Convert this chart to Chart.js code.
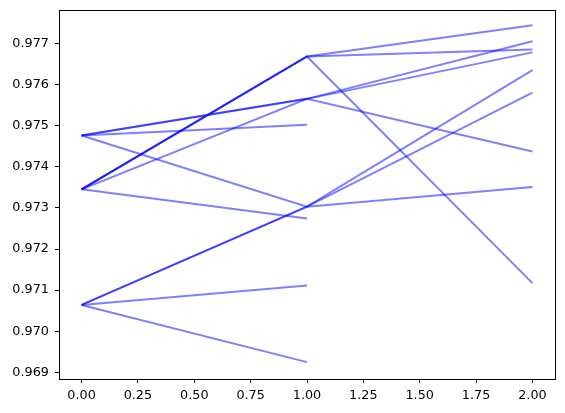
<!DOCTYPE html>
<html>
<head>
<meta charset="utf-8">
<script src="https://cdn.jsdelivr.net/npm/chart.js@4/dist/chart.umd.min.js"></script>
<style>
  html, body { margin: 0; padding: 0; background: #fff; }
  #wrap { width: 565px; height: 413px; }
</style>
</head>
<body>
<div id="wrap"><canvas id="chart" width="565" height="413"></canvas></div>
<script>
// step positions along the x axis
const xValues = [0, 1, 2];

// each path is a list of y values, one per step (some stop at step 1)
const pathsFromA = [
  [0.97476, 0.97565, 0.97705],
  [0.97476, 0.97565, 0.97678],
  [0.97476, 0.97303, 0.97351],
  [0.97476, 0.97502]
];
const pathsFromB = [
  [0.97345, 0.97668, 0.97744],
  [0.97345, 0.97668, 0.97685],
  [0.97345, 0.97668, 0.97117],
  [0.97345, 0.97565, 0.97437],
  [0.97345, 0.97274]
];
const pathsFromC = [
  [0.97064, 0.97303, 0.97635],
  [0.97064, 0.97303, 0.97580],
  [0.97064, 0.97111],
  [0.97064, 0.96925]
];

const xTicks = [0, 0.25, 0.5, 0.75, 1, 1.25, 1.5, 1.75, 2];
const yTicks = [0.969, 0.970, 0.971, 0.972, 0.973, 0.974, 0.975, 0.976, 0.977];

const lineColor = 'rgba(0, 0, 255, 0.5)';
const font = { family: '"DejaVu Sans", sans-serif', size: 12.8 };

const datasets = [...pathsFromA, ...pathsFromB, ...pathsFromC].map(path => ({
  data: path.map((y, i) => ({ x: xValues[i], y })),
  borderColor: lineColor,
  borderWidth: 2,
  pointRadius: 0,
  tension: 0,
  fill: false
}));

// matplotlib-like frame on all four sides
const framePlugin = {
  id: 'frame',
  afterDraw(chart){
    const { ctx, chartArea: a } = chart;
    ctx.save();
    ctx.strokeStyle = '#000';
    ctx.lineWidth = 1;
    ctx.strokeRect(Math.round(a.left) + 0.5, Math.round(a.top) + 0.5,
      Math.round(a.right - a.left), Math.round(a.bottom - a.top));
    ctx.restore();
  }
};

// no extra room for half labels at the axis ends
function noEdgePadding(s){
  s.paddingTop = 0; s.paddingBottom = 0; s.paddingLeft = 0; s.paddingRight = 0;
}

new Chart(document.getElementById('chart'), {
  type: 'line',
  data: { datasets },
  plugins: [framePlugin],
  options: {
    responsive: false,
    animation: false,
    layout: { padding: { top: 10, right: 10, left: 0, bottom: 0 } },
    plugins: { legend: { display: false }, tooltip: { enabled: false } },
    scales: {
      x: {
        type: 'linear',
        min: -0.1,
        max: 2.1,
        afterBuildTicks: s => { s.ticks = xTicks.map(v => ({ value: v })); },
        afterFit: s => { s.height = 34; noEdgePadding(s); },
        grid: { drawOnChartArea: false, drawTicks: true, tickLength: 4, color: '#000' },
        border: { display: true, color: '#000' },
        ticks: {
          color: '#000', font, padding: 5, maxRotation: 0, autoSkip: false,
          callback: v => Number(v).toFixed(2)
        }
      },
      y: {
        type: 'linear',
        min: 0.96884,
        max: 0.97781,
        afterBuildTicks: s => { s.ticks = yTicks.map(v => ({ value: v })); },
        afterFit: s => { s.width = 59; noEdgePadding(s); },
        grid: { drawOnChartArea: false, drawTicks: true, tickLength: 4, color: '#000' },
        border: { display: true, color: '#000' },
        ticks: {
          color: '#000', font, padding: 6, autoSkip: false,
          callback: v => Number(v).toFixed(3)
        }
      }
    }
  }
});
</script>
</body>
</html>
